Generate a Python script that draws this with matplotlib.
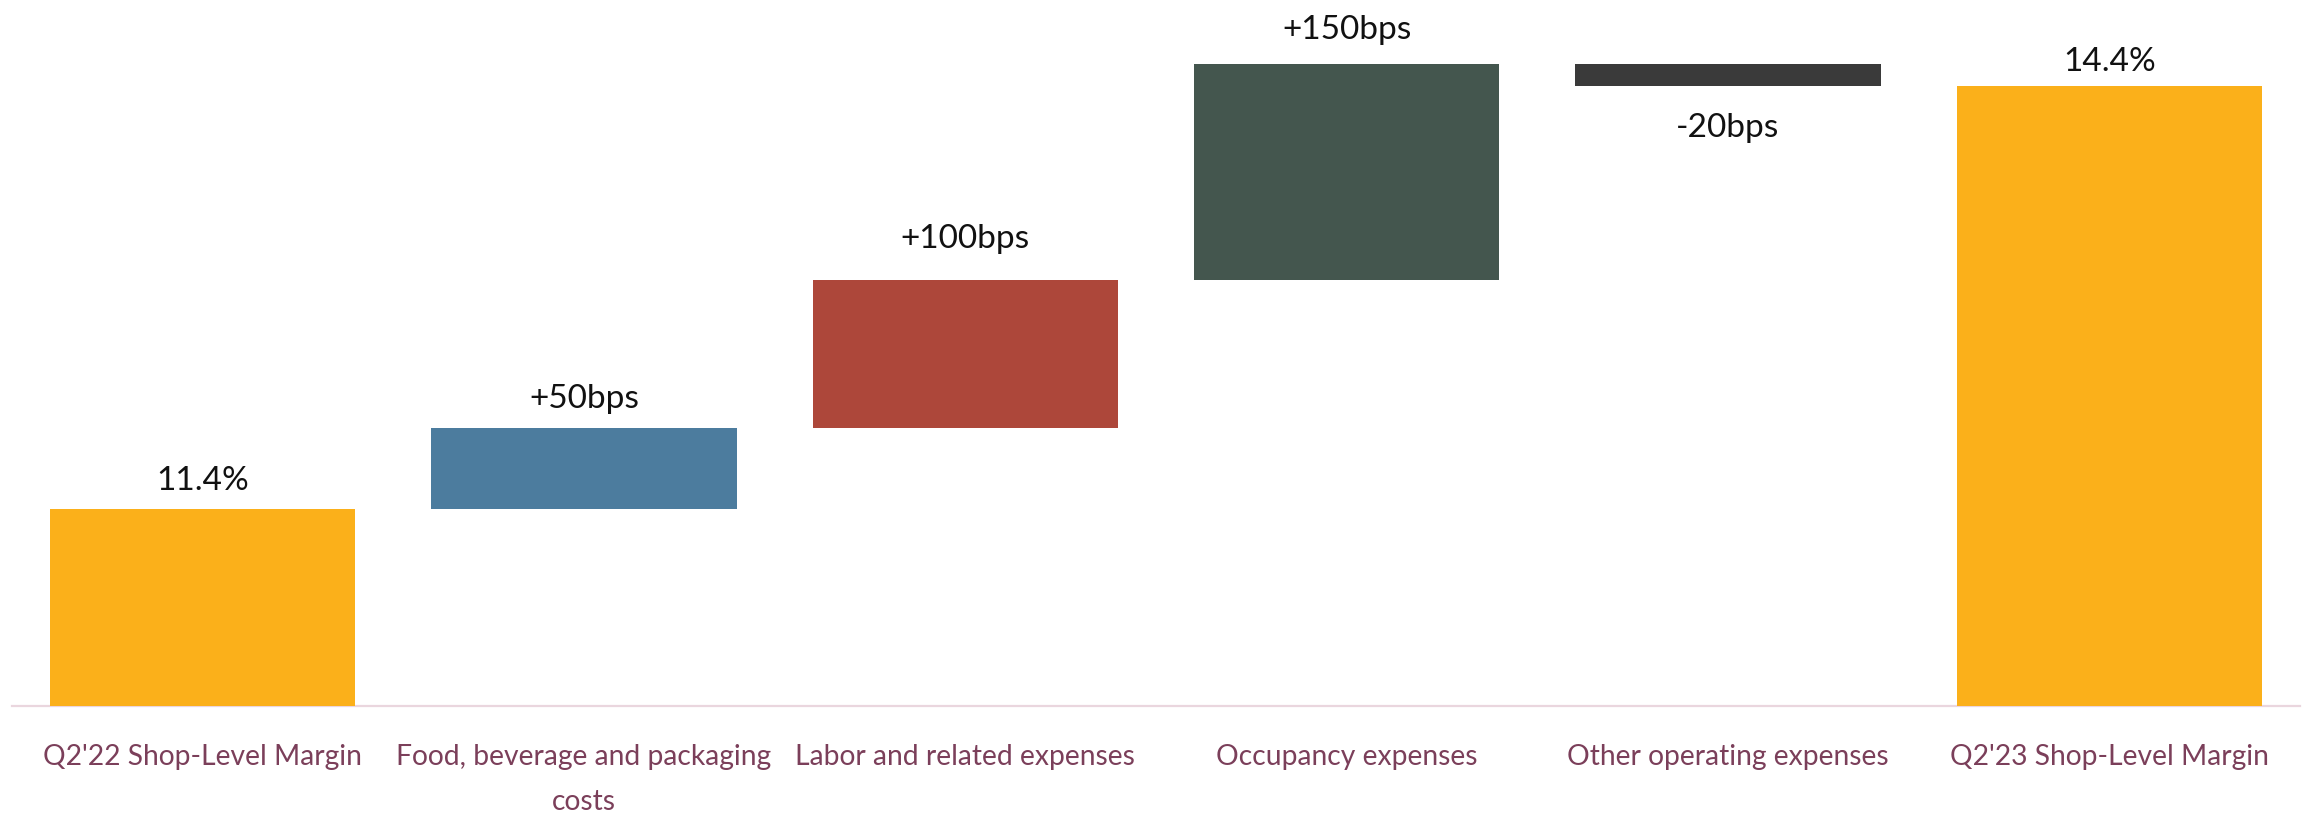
import matplotlib
matplotlib.use("Agg")
import matplotlib.pyplot as plt
import numpy as np

# ---- data ----
categories = [
    "Q2'22 Shop-Level Margin",
    "Food, beverage and packaging\ncosts",
    "Labor and related expenses",
    "Occupancy expenses",
    "Other operating expenses",
    "Q2'23 Shop-Level Margin",
]
start_margin = 11.4                      # first total bar (%)
changes_drawn = [0.55, 1.00, 1.46, -0.15]  # drawn step sizes (% points, as pictured)
value_labels = ["11.4%", "+50bps", "+100bps", "+150bps", "-20bps", "14.4%"]
axis_floor = 10.07                       # value at the baseline (axis does not start at 0)

bar_colors = ["#FBB01A", "#4C7C9E", "#AD473A", "#44564E", "#3A3A3A", "#FBB01A"]
label_offsets_pt = [14, 14, 23, 18, -37, 11]  # label baseline offset from bar edge

# ---- waterfall geometry ----
cum = start_margin + np.cumsum(changes_drawn)
end_margin = cum[-1]
bottoms = [axis_floor]
heights = [start_margin - axis_floor]
prev = start_margin
for c in changes_drawn:
    bottoms.append(prev if c >= 0 else prev + c)
    heights.append(abs(c))
    prev += c
bottoms.append(axis_floor)
heights.append(end_margin - axis_floor)

W, H = 2308, 816
fig = plt.figure(figsize=(W / 100, H / 100), dpi=100)
ax = fig.add_axes([12 / W, 110 / H, 2288 / W, 706 / H])

x = np.arange(len(categories))
ax.bar(x, heights, bottom=bottoms, width=0.8, color=bar_colors, zorder=3)

ax.set_xlim(-0.5, len(categories) - 0.5)
ax.set_ylim(axis_floor, axis_floor + 706 / 148)

font = "Lato"
for i in range(len(categories)):
    off = label_offsets_pt[i]
    if off >= 0:
        y = bottoms[i] + heights[i]
    else:
        y = bottoms[i]
    ax.annotate(value_labels[i], (x[i], y), xytext=(0, off), textcoords="offset points",
                ha="center", va="baseline", fontsize=24, family=font, color="#111111",
                annotation_clip=False)

ax.set_xticks(x)
ax.set_xticklabels(categories, fontsize=20.3, family=font, color="#7B3F5A", linespacing=1.95)
ax.tick_params(axis="x", length=0, pad=27)
ax.set_yticks([])
for s in ["top", "right", "left"]:
    ax.spines[s].set_visible(False)
ax.spines["bottom"].set_color("#EAD6DE")
ax.spines["bottom"].set_linewidth(1.6)
ax.patch.set_alpha(0)

fig.savefig("out.png", dpi=100)
